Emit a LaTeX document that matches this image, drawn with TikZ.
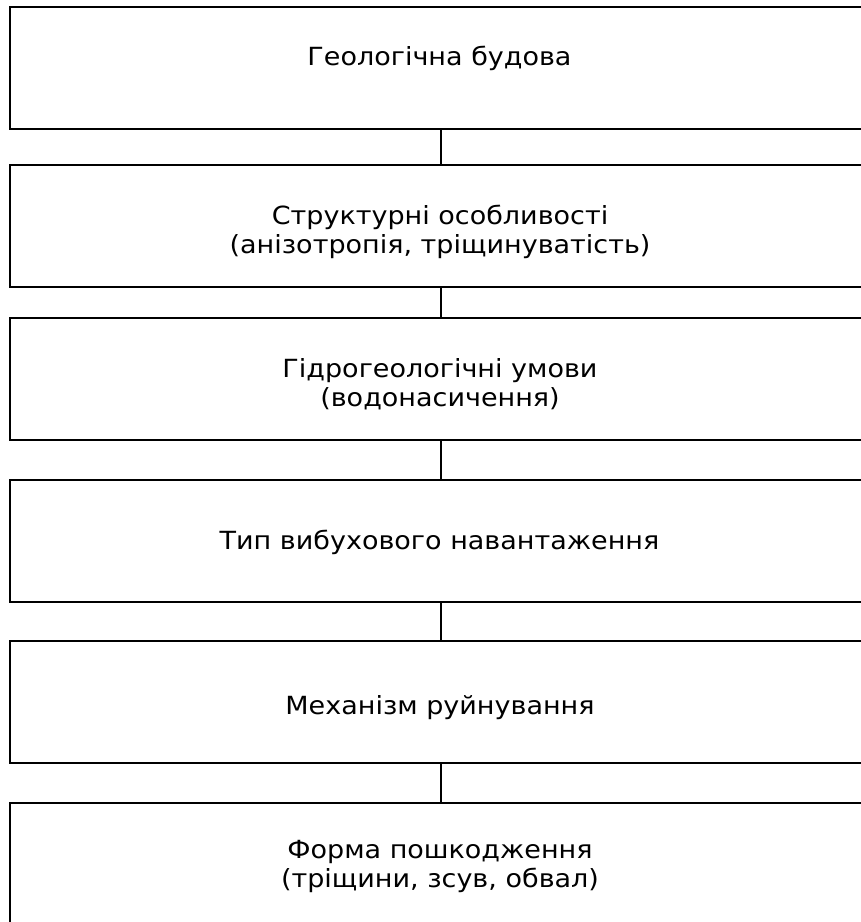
\documentclass[tikz,border=0pt]{standalone}
\usepackage{fontspec}
\setmainfont{DejaVu Sans}[FakeStretch=1.08]
\begin{document}
\begin{tikzpicture}[x=1pt,y=-1pt,
  stage/.style={draw=black, line width=2pt, rectangle, minimum width=863pt, minimum height=122pt, inner sep=0pt, outer sep=0pt},
  lbl/.style={font=\fontsize{25}{29}\selectfont, align=center, anchor=base, inner sep=0pt},
  link/.style={draw=black, line width=2pt}]
\useasboundingbox (0,0) rectangle (861,922);
\begin{scope}
\clip (0,0) rectangle (861,922);
\node[stage] (b1) at (441,68.25) {};
\node[stage] (b2) at (441,226) {};
\node[stage] (b3) at (441,379.4) {};
\node[stage] (b4) at (441,540.8) {};
\node[stage] (b5) at (441,702.3) {};
\node[stage] (b6) at (441,864) {};
\end{scope}
\node[lbl] (t1) at (439.5,65) {Геологічна будова};
\node[lbl] (t2) at (440,253) {Структурні особливості\\(анізотропія, тріщинуватість)};
\node[lbl] (t3) at (440,406) {Гідрогеологічні умови\\(водонасичення)};
\node[lbl] (t4) at (439.5,549) {Тип вибухового навантаження};
\node[lbl] (t5) at (440,714) {Механізм руйнування};
\node[lbl] (t6) at (440,887) {Форма пошкодження\\(тріщини, зсув, обвал)};
\draw[link] (b1.south) -- (b2.north);
\draw[link] (b2.south) -- (b3.north);
\draw[link] (b3.south) -- (b4.north);
\draw[link] (b4.south) -- (b5.north);
\draw[link] (b5.south) -- (b6.north);
\end{tikzpicture}
\end{document}
